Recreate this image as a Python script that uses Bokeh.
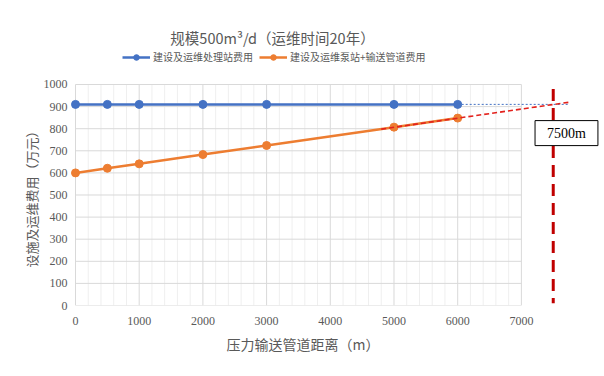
from bokeh.plotting import figure
from bokeh.models import Range1d, FixedTicker, Label, Legend, LegendItem, Title
from bokeh.embed import file_html
from bokeh.resources import INLINE

# ---------------- data ----------------
title_text = "规模500m³/d（运维时间20年）"
x_label = "压力输送管道距离（m）"
y_label = "设施及运维费用（万元）"
series_names = ["建设及运维处理站费用", "建设及运维泵站+输送管道费用"]

distance = [0, 500, 1000, 2000, 3000, 5000, 6000]
station_cost = [910, 910, 910, 910, 910, 910, 910]
pipeline_cost = [600, 621, 641, 683, 724, 807, 848]

x_ticks = [0, 1000, 2000, 3000, 4000, 5000, 6000, 7000]
y_ticks = [0, 100, 200, 300, 400, 500, 600, 700, 800, 900, 1000]
x_minor = [v for v in range(0, 7001, 200) if v % 1000 != 0]

trend_x = [4800, 7780]
trend_y = [798, 921]
station_ext_x = [6000, 7740]
station_ext_y = [910, 910]
cross_x = [7500, 7500]
cross_y = [980, 10]
cross_label = "7500m"
cross_label_pos = (7708, 780)

BLUE = "#4472C4"
ORANGE = "#ED7D31"
GRID = "#d9d9d9"
MINOR = "#efefef"
TXT = "#595959"
CJK = "Noto Sans CJK SC"
SERIF = "Liberation Serif"

p = figure(width=604, height=376, output_backend="svg", toolbar_location=None,
           x_range=Range1d(-78.5, 8242), y_range=Range1d(0, 1380),
           min_border_left=70, min_border_right=4, min_border_top=0, min_border_bottom=71)
p.outline_line_color = None
p.xgrid.visible = False
p.ygrid.visible = False
p.background_fill_color = "white"
p.border_fill_color = "white"

# axes
for ax in (p.xaxis[0], p.yaxis[0]):
    ax.axis_line_color = None
    ax.major_tick_line_color = None
    ax.minor_tick_line_color = None
    ax.major_label_text_font = SERIF
    ax.major_label_text_font_size = "12px"
    ax.major_label_text_color = TXT
    ax.axis_label_standoff = 0
p.xaxis[0].ticker = FixedTicker(ticks=x_ticks)
p.yaxis[0].ticker = FixedTicker(ticks=y_ticks)
p.xaxis[0].major_label_standoff = 5
p.yaxis[0].major_tick_out = 0
p.yaxis[0].major_tick_in = 0
p.yaxis[0].minor_tick_out = 0
p.yaxis[0].major_label_standoff = 3

# grid lines
p.segment(x0=x_minor, y0=[0] * len(x_minor), x1=x_minor, y1=[1000] * len(x_minor),
          line_color=MINOR, line_width=1)
p.segment(x0=x_ticks, y0=[0] * len(x_ticks), x1=x_ticks, y1=[1000] * len(x_ticks),
          line_color=GRID, line_width=1)
p.segment(x0=[0] * len(y_ticks), y0=y_ticks, x1=[7000] * len(y_ticks), y1=y_ticks,
          line_color=GRID, line_width=1)

# series
l1 = p.line(distance, station_cost, line_color=BLUE, line_width=2.5)
c1 = p.scatter(distance, station_cost, size=8, fill_color=BLUE, line_color=BLUE)
l2 = p.line(distance, pipeline_cost, line_color=ORANGE, line_width=2.5)
c2 = p.scatter(distance, pipeline_cost, size=8, fill_color=ORANGE, line_color=ORANGE)

# extensions
p.line(station_ext_x, station_ext_y, line_color=BLUE, line_width=1, line_dash="2 2")
p.line(trend_x, trend_y, line_color="#e3211c", line_width=1.6, line_dash="5 3")
p.line(cross_x, cross_y, line_color="#c00000", line_width=3, line_dash="12 7")

p.add_layout(Label(x=cross_label_pos[0], y=cross_label_pos[1], text=cross_label,
                   text_align="center", text_baseline="middle",
                   text_font=SERIF, text_font_size="14px", text_color="black",
                   border_line_color="black", border_line_width=1,
                   background_fill_color="white",
                   padding=dict(left=12, right=12, top=5, bottom=5)))

# chart title (inside the tall frame, above the grid)
p.add_layout(Label(x=202, y=268, x_units="screen", y_units="screen", text=title_text,
                   text_align="center", text_baseline="middle",
                   text_font=CJK, text_font_size="14.5px", text_color=TXT))

# legend
legend = Legend(items=[LegendItem(label=series_names[0], renderers=[l1, c1]),
                       LegendItem(label=series_names[1], renderers=[l2, c2])],
                location=(52, 241), orientation="horizontal",
                glyph_width=28, glyph_height=14, label_height=14, label_standoff=3,
                spacing=6, padding=0, margin=0, border_line_color=None,
                background_fill_alpha=0,
                label_text_font=CJK, label_text_font_size="10px", label_text_color=TXT)
p.add_layout(legend)

# axis titles
xt = Title(text=x_label, align="left", offset=156, text_font=CJK, text_font_size="14px",
           text_font_style="normal", text_color=TXT, standoff=8)
p.add_layout(xt, "below")
yt = Title(text=y_label, align="left", offset=38, text_font=CJK, text_font_size="13px",
           text_font_style="normal", text_color=TXT, standoff=0)
p.add_layout(yt, "left")

open("out.html", "w").write(file_html(p, INLINE))
